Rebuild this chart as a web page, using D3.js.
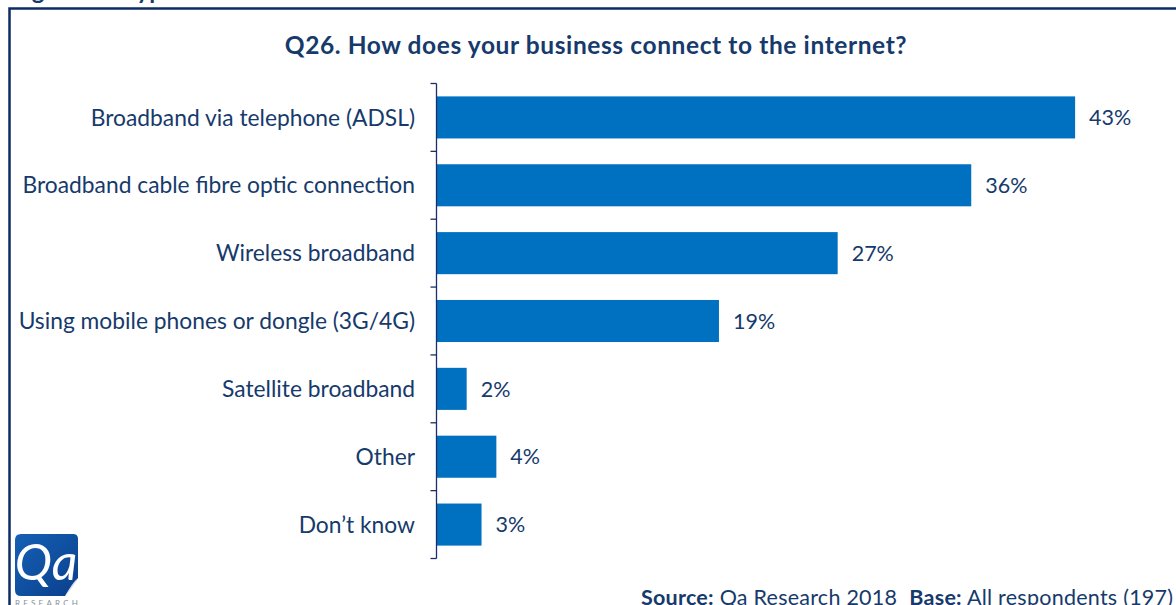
<!DOCTYPE html>
<html>
<head>
<meta charset="utf-8">
<script src="https://cdn.jsdelivr.net/npm/d3@7"></script>
<style>
  html, body { margin: 0; padding: 0; background: #fff; }
  svg { display: block; }
  text { font-family: Lato, "Open Sans", sans-serif; }
</style>
</head>
<body>
<svg id="chart" width="1176" height="605"></svg>
<script>
// Survey answers: how businesses connect to the internet
const categories = [
  "Broadband via telephone (ADSL)",
  "Broadband cable fibre optic connection",
  "Wireless broadband",
  "Using mobile phones or dongle (3G/4G)",
  "Satellite broadband",
  "Other",
  "Don\u2019t know"
];
const values = [43, 36, 27, 19, 2, 4, 3];
const valueLabels = ["43%", "36%", "27%", "19%", "2%", "4%", "3%"];

const title = "Q26. How does your business connect to the internet?";
const figureTitle = "Figure 10: Type of internet connection";

const navy = "#163a6b";
const barColor = "#0070c0";

const svg = d3.select("#chart");

// Figure caption, mostly above the visible area
svg.append("text")
  .attr("x", 12).attr("y", -1)
  .attr("font-size", 24).attr("font-weight", 700)
  .attr("fill", navy)
  .text(figureTitle);

// Frame (top and left edges)
svg.append("path")
  .attr("d", "M9.5,605 V8.5 H1176")
  .attr("fill", "none")
  .attr("stroke", "#0d2c63")
  .attr("stroke-width", 2.5);

// Chart title
svg.append("text")
  .attr("x", 596).attr("y", 54)
  .attr("text-anchor", "middle")
  .attr("font-size", 24.5).attr("font-weight", 700)
  .attr("letter-spacing", 0.6)
  .attr("fill", navy)
  .text(title);

// Scales
const y = d3.scaleBand()
  .domain(categories)
  .range([83.5, 558.5])
  .paddingInner(0.38)
  .paddingOuter(0.19);

const x = d3.scaleLinear()
  .domain([0, 50])
  .range([437, 437 + 742]);

// Bars
svg.append("g").selectAll("rect")
  .data(categories)
  .join("rect")
  .attr("x", x(0))
  .attr("y", d => y(d))
  .attr("width", (d, i) => x(values[i]) - x(0))
  .attr("height", y.bandwidth())
  .attr("fill", barColor);

// Value labels
svg.append("g").selectAll("text")
  .data(categories)
  .join("text")
  .attr("x", (d, i) => x(values[i]) + 14)
  .attr("y", d => y(d) + y.bandwidth() / 2)
  .attr("dy", "0.36em")
  .attr("font-size", 21.5)
  .attr("fill", navy)
  .text((d, i) => valueLabels[i]);

// Category axis: line with ticks at band boundaries
const axisG = svg.append("g").attr("transform", "translate(436.5,0)");
const boundaries = d3.range(categories.length + 1).map(i => y.range()[0] + i * y.step());
axisG.append("line")
  .attr("x1", 0).attr("x2", 0)
  .attr("y1", boundaries[0]).attr("y2", boundaries[boundaries.length - 1])
  .attr("stroke", "#1a2f6b").attr("stroke-width", 1.3);
axisG.selectAll("line.tick")
  .data(boundaries)
  .join("line")
  .attr("class", "tick")
  .attr("x1", -6).attr("x2", 0)
  .attr("y1", d => d).attr("y2", d => d)
  .attr("stroke", "#1a2f6b").attr("stroke-width", 1.3);

// Category labels
svg.append("g").selectAll("text")
  .data(categories)
  .join("text")
  .attr("x", 415)
  .attr("y", d => y(d) + y.bandwidth() / 2)
  .attr("dy", "0.36em")
  .attr("text-anchor", "end")
  .attr("font-size", 22.8)
  .attr("fill", navy)
  .text(d => d);

// Qa Research logo
const logo = svg.append("g").attr("transform", "translate(15,534)");
const grad = svg.append("defs").append("linearGradient")
  .attr("id", "logoGrad").attr("x1", 0).attr("y1", 0).attr("x2", 1).attr("y2", 1);
grad.append("stop").attr("offset", "0%").attr("stop-color", "#1560b5");
grad.append("stop").attr("offset", "100%").attr("stop-color", "#0a3f8c");
logo.append("path")
  .attr("d", "M6,0 H58 Q63,0 63,5 V44 L50,62 H6 Q0,62 0,56 V6 Q0,0 6,0 Z")
  .attr("fill", "url(#logoGrad)");
logo.append("path")
  .attr("d", "M63,44 Q58,48 50,62 Q56,56 63,44 Z")
  .attr("fill", "#d8dde6");
logo.append("text")
  .attr("x", 31).attr("y", 46)
  .attr("text-anchor", "middle")
  .attr("font-family", "'Liberation Serif', 'DejaVu Serif', serif")
  .attr("font-style", "italic")
  .attr("font-size", 50)
  .attr("fill", "#fff")
  .text("Qa");
logo.append("text")
  .attr("x", 0).attr("y", 72)
  .attr("font-size", 8)
  .attr("letter-spacing", 3.2)
  .attr("fill", "#8a8f99")
  .text("RESEARCH");

// Source and base note
const note = svg.append("text")
  .attr("x", 641).attr("y", 605)
  .attr("font-size", 21.5)
  .attr("letter-spacing", 0.25)
  .attr("fill", navy);
note.append("tspan").attr("font-weight", 700).text("Source:");
note.append("tspan").text(" Qa Research 2018");
note.append("tspan").attr("dx", 12).attr("font-weight", 700).text("Base:");
note.append("tspan").text(" All respondents (197)");
</script>
</body>
</html>
